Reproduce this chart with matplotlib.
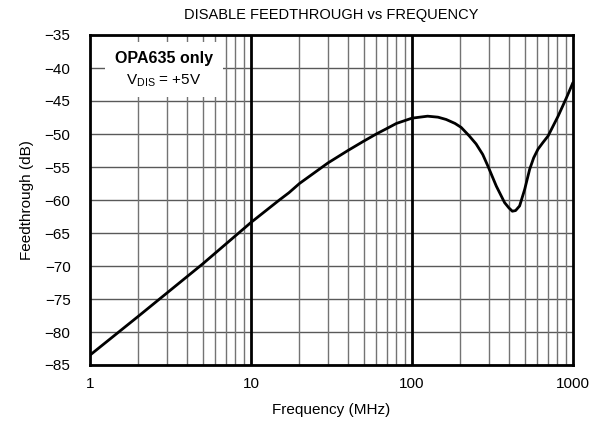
import matplotlib
matplotlib.use("Agg")
import matplotlib.pyplot as plt
from matplotlib.ticker import FixedLocator, NullFormatter

plt.rcParams['font.family'] = ['Liberation Sans', 'DejaVu Sans']

freq_mhz = [1, 2, 5, 10, 15, 17.2, 20, 30, 40, 50, 60, 70, 80, 100, 125, 145, 163, 185, 202, 227,
            250, 275, 296, 334, 376, 400, 420, 440, 466, 501, 538, 570, 606, 650, 700, 808, 911, 1000]
feedthrough_db = [-83.5, -77.6, -69.7, -63.4, -60.0, -58.9, -57.5, -54.4, -52.5, -51.1, -50.0, -49.15,
                  -48.4, -47.6, -47.3, -47.45, -47.8, -48.4, -49.0, -50.3, -51.5, -53.1, -54.85, -57.9,
                  -60.4, -61.2, -61.7, -61.6, -60.9, -58.4, -55.35, -53.6, -52.3, -51.3, -50.3, -47.3,
                  -44.5, -42.2]

y_ticks = [-35, -40, -45, -50, -55, -60, -65, -70, -75, -80, -85]
x_ticks = [1, 10, 100, 1000]
x_tick_labels = ["1", "10", "100", "1000"]
minor_x = [m * d for d in (1, 10, 100) for m in range(2, 10)]

fig = plt.figure(figsize=(6.13, 4.29), dpi=100)
ax = fig.add_axes([90/613, 1-365/429, (573-90)/613, (365-35)/429])

ax.set_xscale('log')
ax.set_xlim(1, 1000)
ax.set_ylim(-85, -35)

# grid
for yv in y_ticks:
    ax.axhline(yv, color='0.35', lw=1.0, zorder=1)
for xv in minor_x:
    ax.axvline(xv, color='0.45', lw=1.0, zorder=1)
for xv in (10, 100):
    ax.axvline(xv, color='black', lw=2.0, zorder=1.5)

ax.plot(freq_mhz, feedthrough_db, color='black', lw=2.0, zorder=3,
        solid_joinstyle='round', solid_capstyle='round')

ax.set_xticks(x_ticks)
ax.set_xticklabels(x_tick_labels)
ax.xaxis.set_minor_locator(FixedLocator(minor_x))
ax.xaxis.set_minor_formatter(NullFormatter())
ax.set_yticks(y_ticks)
ax.set_yticklabels([str(v).replace('-', '\u2212') for v in y_ticks])
ax.tick_params(axis='both', which='both', length=0, labelsize=11)
ax.tick_params(axis='y', pad=14)
ax.tick_params(axis='x', pad=9)

for s in ax.spines.values():
    s.set_linewidth(2.0)
    s.set_zorder(4)

ax.set_xlabel("Frequency (MHz)", fontsize=11, labelpad=8)
ax.set_ylabel("Feedthrough (dB)", fontsize=11, labelpad=8)
fig.text(331/613, 1-15/429, "DISABLE FEEDTHROUGH vs FREQUENCY", ha='center', va='center', fontsize=10.5)

# annotation box (white background hides the grid behind the text)
bx = fig.add_axes([105/613, 1-97/429, (223-105)/613, (97-42)/429])
bx.set_facecolor('white')
bx.set_xticks([]); bx.set_yticks([])
for s in bx.spines.values():
    s.set_visible(False)
bx.text(0.5, 0.70, "OPA635 only", ha='center', va='center', fontsize=11.5, fontweight='bold', transform=bx.transAxes)
bx.text(0.5, 0.30, r"V$_{\mathregular{DIS}}$ = +5V", ha='center', va='center', fontsize=11, transform=bx.transAxes)

fig.savefig("out.png", dpi=100)
